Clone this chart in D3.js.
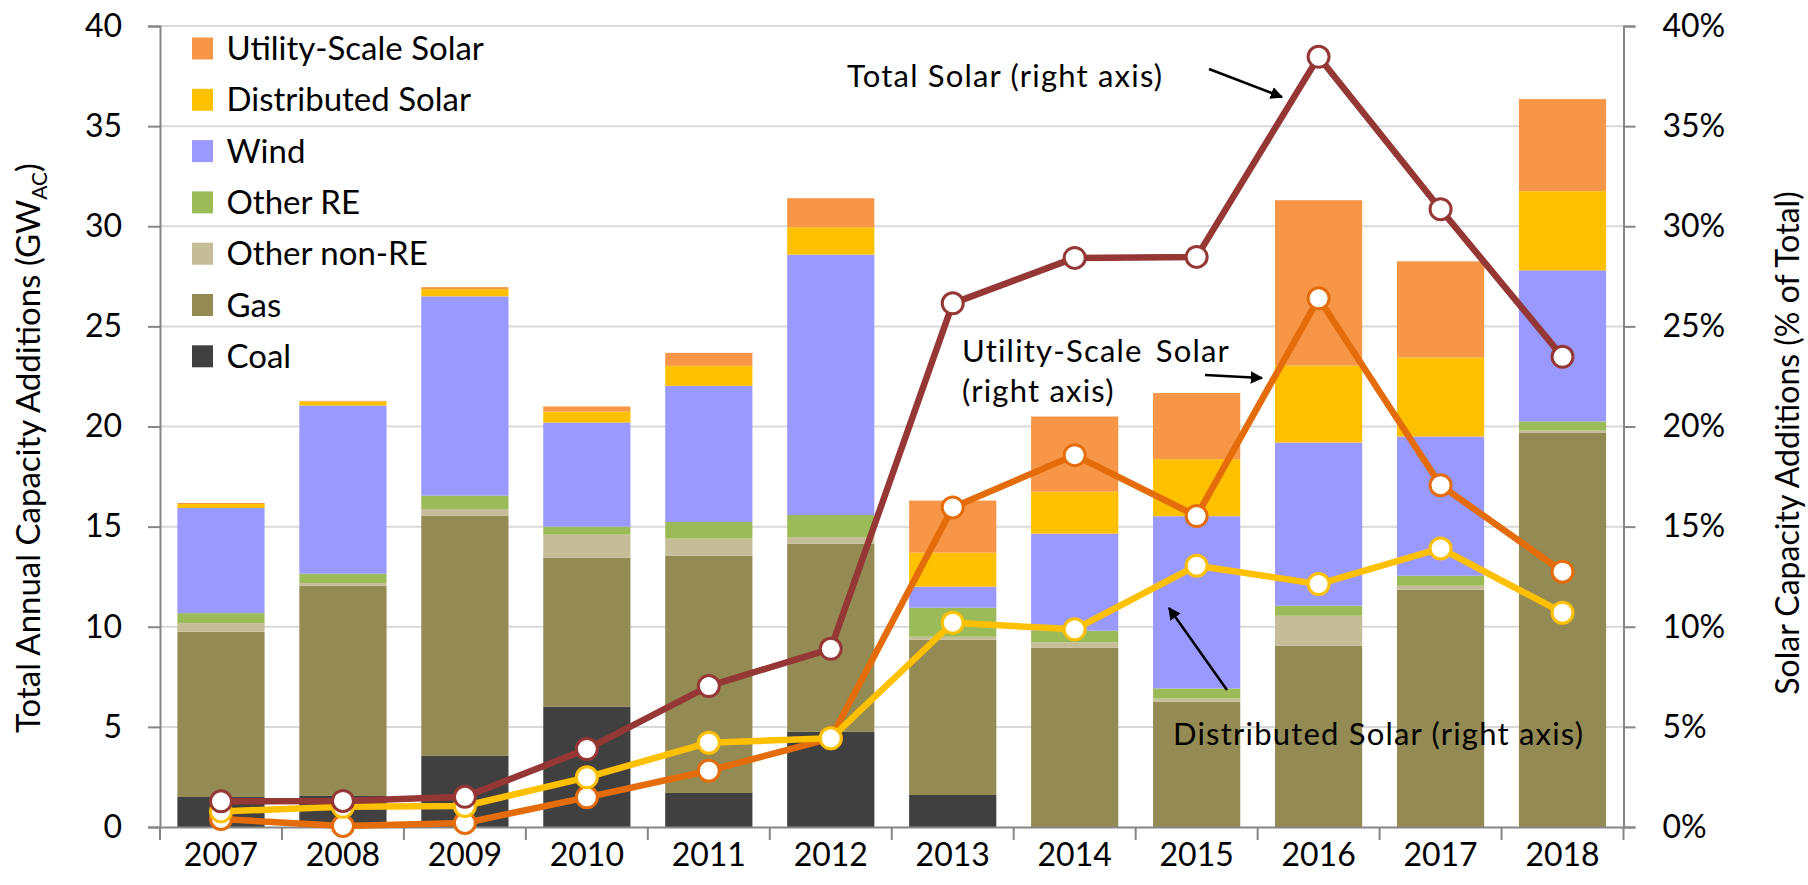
<!DOCTYPE html>
<html>
<head>
<meta charset="utf-8">
<script src="https://cdn.jsdelivr.net/npm/d3@7"></script>
<style>
  body { margin: 0; background: #fff; }
  svg { font-family: Lato, "Open Sans", sans-serif; }
</style>
</head>
<body>
<div id="chart"></div>
<script>
// categories + series
const years = ["2007", "2008", "2009", "2010", "2011", "2012", "2013", "2014", "2015", "2016", "2017", "2018"]

// stacked bars, GW-AC (bottom to top)
const coal = [1.5, 1.55, 3.55, 6.0, 1.7, 4.75, 1.6, 0, 0, 0, 0, 0]
const gas = [8.25, 10.5, 12.0, 7.45, 11.85, 9.4, 7.75, 8.95, 6.25, 9.05, 11.85, 19.7]
const otherNonRE = [0.43, 0.13, 0.33, 1.15, 0.85, 0.33, 0.15, 0.27, 0.17, 1.5, 0.2, 0.1]
const otherRE = [0.5, 0.47, 0.67, 0.4, 0.83, 1.1, 1.45, 0.58, 0.5, 0.5, 0.5, 0.45]
const wind = [5.25, 8.4, 9.95, 5.2, 6.8, 13.0, 1.05, 4.85, 8.6, 8.15, 6.95, 7.55]
const distSolar = [0.2, 0.2, 0.36, 0.55, 1.0, 1.37, 1.7, 2.1, 2.85, 3.85, 3.95, 3.95]
const utilSolar = [0.05, 0.03, 0.1, 0.25, 0.65, 1.45, 2.6, 3.75, 3.3, 8.25, 4.8, 4.6]

// lines, % of total additions (right axis)
const totalPct = [1.28, 1.3, 1.51, 3.89, 7.04, 8.9, 26.15, 28.42, 28.47, 38.46, 30.85, 23.48]
const utilPct = [0.4, 0.05, 0.2, 1.48, 2.81, 4.43, 15.96, 18.57, 15.53, 26.4, 17.07, 12.75]
const distPct = [0.78, 1.01, 1.05, 2.48, 4.21, 4.43, 10.2, 9.87, 13.05, 12.13, 13.91, 10.7]

const leftTicks = [0, 5, 10, 15, 20, 25, 30, 35, 40]
const rightTicks = [0, 0.05, 0.10, 0.15, 0.20, 0.25, 0.30, 0.35, 0.40]

const stackKeys = ["Coal", "Gas", "Other non-RE", "Other RE", "Wind", "Distributed Solar", "Utility-Scale Solar"]
const stackSeries = [coal, gas, otherNonRE, otherRE, wind, distSolar, utilSolar]
const barColors = ["#404040", "#948A54", "#C4BD97", "#9BBB59", "#9999FF", "#FFC000", "#F79646"]

const margin = { top: 26, right: 184.5, bottom: 58, left: 160 }
const W = 1808
const H = 885
const width = W - margin.left - margin.right
const height = H - margin.top - margin.bottom

const svg = d3.select("#chart").append("svg")
    .attr("width", W)
    .attr("height", H)
  .append("g")
    .attr("transform", "translate(" + margin.left + "," + margin.top + ")")

const x = d3.scaleBand()
  .domain(years)
  .range([0, width])
  .paddingInner(0.285)
  .paddingOuter(0.1425)

const y = d3.scaleLinear().domain([0, 40]).range([height, 0])
const yPct = d3.scaleLinear().domain([0, 0.40]).range([height, 0])

// gridlines
svg.selectAll(".grid")
  .data(leftTicks.filter(d => d > 0))
  .join("line")
  .attr("x1", 0)
  .attr("x2", width)
  .attr("y1", d => y(d))
  .attr("y2", d => y(d))
  .attr("stroke", "#D9D9D9")
  .attr("stroke-width", 2)

// stack the bars
const table = years.map((yr, i) => {
  const row = { year: yr }
  stackKeys.forEach((k, j) => { row[k] = stackSeries[j][i] })
  return row
})
const stacked = d3.stack().keys(stackKeys)(table)

svg.append("g")
  .selectAll("g")
  .data(stacked)
  .join("g")
    .attr("fill", (d, i) => barColors[i])
  .selectAll("rect")
  .data(d => d)
  .join("rect")
    .attr("x", d => x(d.data.year))
    .attr("width", x.bandwidth())
    .attr("y", d => y(d[1]))
    .attr("height", d => y(d[0]) - y(d[1]))

// axes
const fontSize = 32

const leftAxis = svg.append("g")
  .call(d3.axisLeft(y).tickValues(leftTicks).tickSize(12).tickPadding(26))
leftAxis.select(".domain").attr("stroke", "#868686").attr("stroke-width", 2)
leftAxis.selectAll(".tick line").attr("stroke", "#868686").attr("stroke-width", 2)
leftAxis.selectAll("text").attr("font-size", fontSize).attr("font-family", "Lato").attr("fill", "#000")

const rightAxis = svg.append("g")
  .attr("transform", "translate(" + width + ",0)")
  .call(d3.axisRight(yPct).tickValues(rightTicks).tickFormat(d3.format(".0%")).tickSize(12).tickPadding(27))
rightAxis.select(".domain").attr("stroke", "#868686").attr("stroke-width", 2)
rightAxis.selectAll(".tick line").attr("stroke", "#868686").attr("stroke-width", 2)
rightAxis.selectAll("text").attr("font-size", fontSize).attr("font-family", "Lato").attr("fill", "#000")

// x axis - ticks sit between the bars, like excel
const xAxis = svg.append("g")
  .attr("transform", "translate(0," + height + ")")
  .call(d3.axisBottom(x).tickSize(0).tickPadding(16))
xAxis.select(".domain").attr("stroke", "#868686").attr("stroke-width", 2)
xAxis.selectAll("text").attr("font-size", fontSize).attr("font-family", "Lato").attr("fill", "#000")

const step = x.step()
xAxis.selectAll(".sep")
  .data(d3.range(years.length + 1))
  .join("line")
  .attr("x1", i => i === years.length ? width : x(years[0]) - x.paddingInner() * step / 2 + i * step)
  .attr("x2", i => i === years.length ? width : x(years[0]) - x.paddingInner() * step / 2 + i * step)
  .attr("y1", 0)
  .attr("y2", 13)
  .attr("stroke", "#868686")
  .attr("stroke-width", 2)

// lines with hollow markers
const lineSeries = [
  { values: utilPct, color: "#E46C0A" },
  { values: distPct, color: "#FFC000" },
  { values: totalPct, color: "#953735" }
]

const line = d3.line()
  .x((d, i) => x(years[i]) + x.bandwidth() / 2)
  .y(d => yPct(d / 100))

lineSeries.forEach(s => {
  svg.append("path")
    .datum(s.values)
    .attr("d", line)
    .attr("fill", "none")
    .attr("stroke", s.color)
    .attr("stroke-width", 6.5)
    .attr("stroke-linejoin", "round")

  svg.append("g")
    .selectAll("circle")
    .data(s.values)
    .join("circle")
    .attr("cx", (d, i) => x(years[i]) + x.bandwidth() / 2)
    .attr("cy", d => yPct(d / 100))
    .attr("r", 10.5)
    .attr("fill", "#fff")
    .attr("stroke", s.color)
    .attr("stroke-width", 3)
})

// legend, top left inside plot
const legendKeys = stackKeys.slice().reverse()
const legendColors = barColors.slice().reverse()
const legend = svg.append("g")
  .attr("transform", "translate(32,22.5)")

legendKeys.forEach((k, i) => {
  const row = legend.append("g").attr("transform", "translate(0," + i * 51.3 + ")")
  row.append("rect")
    .attr("x", 0)
    .attr("y", -11)
    .attr("width", 21)
    .attr("height", 22)
    .attr("fill", legendColors[i])
  row.append("text")
    .attr("x", 34.5)
    .attr("y", 11.5)
    .attr("font-size", 33)
    .text(k)
})

// axis titles (rotated, caps point left)
svg.append("text")
  .attr("transform", "translate(" + (40 - margin.left) + "," + (448 - margin.top) + ") rotate(-90)")
  .attr("text-anchor", "middle")
  .attr("font-size", 33)
  .call(t => {
    t.append("tspan").text("Total Annual Capacity Additions (GW")
    t.append("tspan").attr("font-size", 21).attr("dy", 7).text("AC")
    t.append("tspan").attr("dy", -7).text(")")
  })

svg.append("text")
  .attr("transform", "translate(" + (1799 - margin.left) + "," + (443 - margin.top) + ") rotate(-90)")
  .attr("text-anchor", "middle")
  .attr("font-size", 32)
  .text("Solar Capacity Additions (% of Total)")

// annotations + arrows
const defs = svg.append("defs")
defs.append("marker")
  .attr("id", "arrow")
  .attr("viewBox", "0 0 10 10")
  .attr("refX", 9)
  .attr("refY", 5)
  .attr("markerWidth", 5)
  .attr("markerHeight", 5)
  .attr("orient", "auto")
  .append("path")
  .attr("d", "M0,0 L10,5 L0,10 Z")
  .attr("fill", "#000")

const notes = svg.append("g")
  .attr("font-size", 31)
  .attr("letter-spacing", 1.2)

notes.append("text").attr("x", 847 - margin.left).attr("y", 87 - margin.top).text("Total Solar (right axis)")
notes.append("text").attr("x", 962 - margin.left).attr("y", 362 - margin.top).attr("word-spacing", 4).text("Utility-Scale Solar")
notes.append("text").attr("x", 962 - margin.left).attr("y", 402 - margin.top).text("(right axis)")
notes.append("text").attr("x", 1173 - margin.left).attr("y", 745 - margin.top).text("Distributed Solar (right axis)")

const arrows = [
  [1209, 69, 1282, 97],
  [1205, 375, 1262, 378],
  [1227, 690, 1169, 608]
]
notes.selectAll(".arr")
  .data(arrows)
  .join("line")
  .attr("x1", d => d[0] - margin.left)
  .attr("y1", d => d[1] - margin.top)
  .attr("x2", d => d[2] - margin.left)
  .attr("y2", d => d[3] - margin.top)
  .attr("stroke", "#000")
  .attr("stroke-width", 2.5)
  .attr("marker-end", "url(#arrow)")
</script>
</body>
</html>
